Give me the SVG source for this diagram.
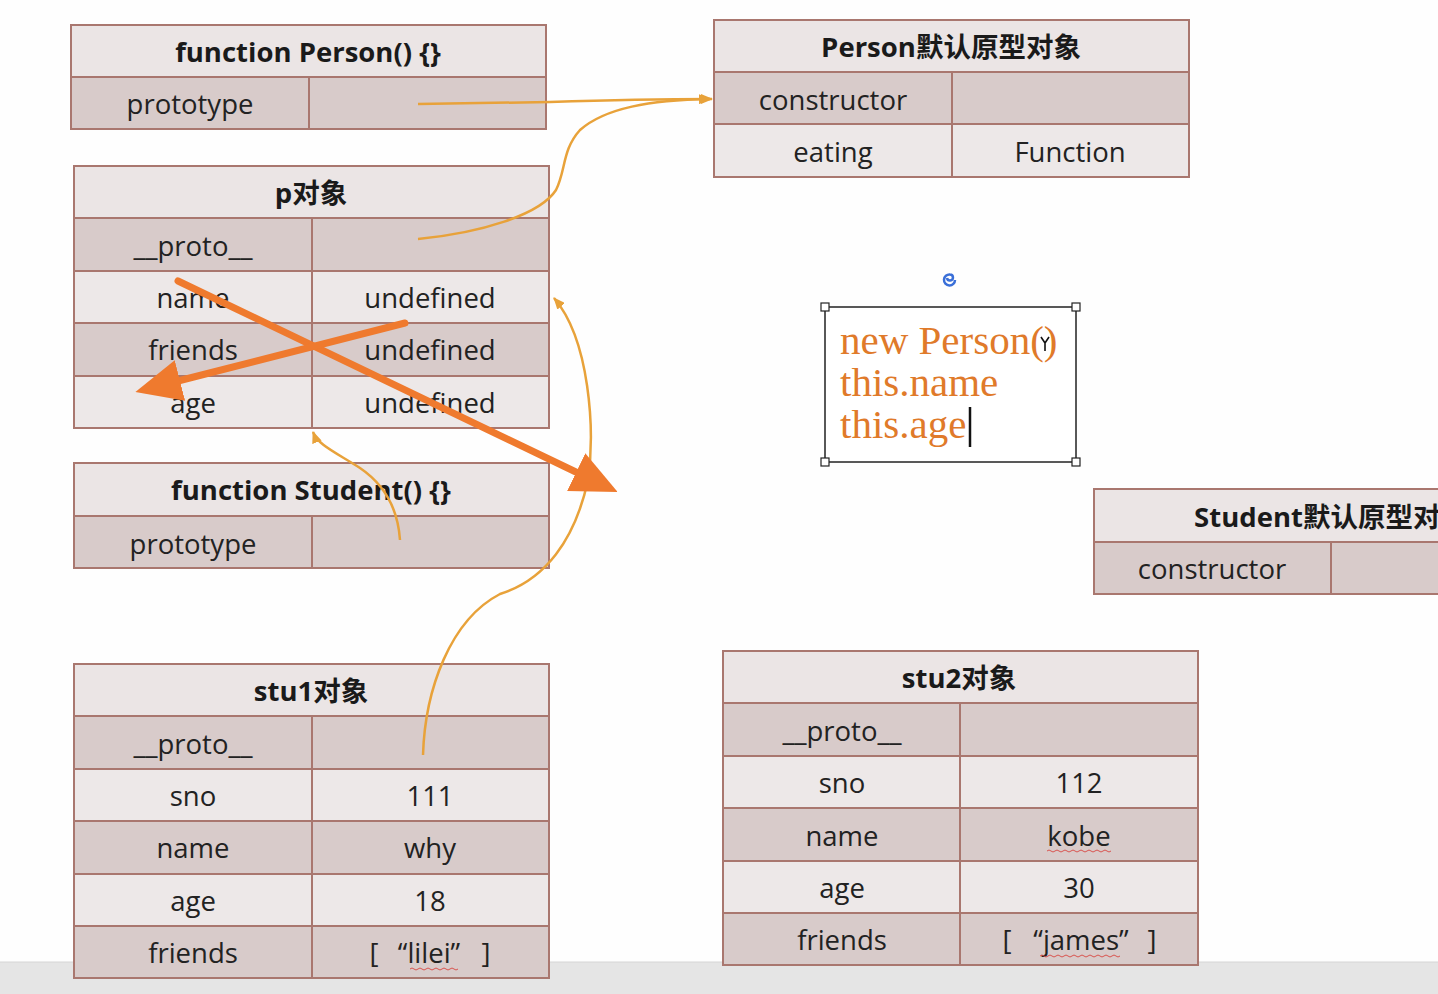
<svg xmlns="http://www.w3.org/2000/svg" width="1438" height="994" viewBox="0 0 1438 994">
<style>
.hd{fill:#ebe5e5}
.dk{fill:#d8cbca}
.lt{fill:#ede8e8}
.bd{fill:none;stroke:#a9776f;stroke-width:2}
.ln{stroke:#a9776f;stroke-width:2}
.h{font-family:"Open Sans","Noto Sans CJK SC",sans-serif;font-weight:bold;font-size:27.5px;fill:#1a1a1a;text-anchor:middle}
.t{font-family:"Open Sans","Noto Sans CJK SC",sans-serif;font-size:27.5px;fill:#222;text-anchor:middle}
.thin{fill:none;stroke:#e8a23a;stroke-width:2.5}
.thick{fill:none;stroke:#ef7a2e;stroke-width:7;stroke-linecap:round}
.note{font-family:"Liberation Serif","Times New Roman",serif;font-size:41px;fill:#e07a2a}
.wavy{fill:none;stroke:#d9534f;stroke-width:1}
.hdl{fill:#fff;stroke:#222;stroke-width:1.2}
</style>
<defs>
<marker id="ah" viewBox="0 0 12 10" refX="11" refY="5" markerWidth="12" markerHeight="10" markerUnits="userSpaceOnUse" orient="auto">
<path d="M0,0 L12,5 L0,10 Z" fill="#e8a23a"/>
</marker>
<marker id="big" viewBox="0 0 46 42" refX="2" refY="21" markerWidth="46" markerHeight="42" markerUnits="userSpaceOnUse" orient="auto">
<path d="M0,0 L46,21 L0,42 Z" fill="#ef7a2e"/>
</marker>
</defs>
<rect x="0" y="0" width="1438" height="994" fill="#fefefe"/>
<rect x="0" y="962" width="1438" height="32" fill="#e5e5e5"/>
<line x1="0" y1="962" x2="1438" y2="962" stroke="#d6d6d6" stroke-width="1"/>

<g id="person-fn">
<rect class="hd" x="71" y="25" width="475" height="52"/>
<rect class="dk" x="71" y="77" width="475" height="52"/>
<rect class="bd" x="71" y="25" width="475" height="104"/>
<line class="ln" x1="71" y1="77" x2="546" y2="77"/>
<line class="ln" x1="309" y1="77" x2="309" y2="129"/>
<text class="h" x="308" y="62">function Person() {}</text>
<text class="t" x="190" y="114">prototype</text>
</g>

<g id="person-proto">
<rect class="hd" x="714" y="20" width="475" height="52"/>
<rect class="dk" x="714" y="72" width="475" height="52"/>
<rect class="lt" x="714" y="124" width="475" height="53"/>
<rect class="bd" x="714" y="20" width="475" height="157"/>
<line class="ln" x1="714" y1="72" x2="1189" y2="72"/>
<line class="ln" x1="714" y1="124" x2="1189" y2="124"/>
<line class="ln" x1="952" y1="72" x2="952" y2="177"/>
<text class="h" x="951" y="57">Person默认原型对象</text>
<text class="t" x="833" y="110">constructor</text>
<text class="t" x="833" y="162">eating</text>
<text class="t" x="1070" y="162">Function</text>
</g>

<g id="p-obj">
<rect class="hd" x="74" y="166" width="475" height="52"/>
<rect class="dk" x="74" y="218" width="475" height="53"/>
<rect class="lt" x="74" y="271" width="475" height="52"/>
<rect class="dk" x="74" y="323" width="475" height="53"/>
<rect class="lt" x="74" y="376" width="475" height="52"/>
<rect class="bd" x="74" y="166" width="475" height="262"/>
<line class="ln" x1="74" y1="218" x2="549" y2="218"/>
<line class="ln" x1="74" y1="271" x2="549" y2="271"/>
<line class="ln" x1="74" y1="323" x2="549" y2="323"/>
<line class="ln" x1="74" y1="376" x2="549" y2="376"/>
<line class="ln" x1="312" y1="218" x2="312" y2="428"/>
<text class="h" x="311" y="203">p对象</text>
<text class="t" x="193" y="256">__proto__</text>
<text class="t" x="193" y="308">name</text>
<text class="t" x="193" y="360">friends</text>
<text class="t" x="193" y="413">age</text>
<text class="t" x="430" y="308">undefined</text>
<text class="t" x="430" y="360">undefined</text>
<text class="t" x="430" y="413">undefined</text>
</g>

<g id="student-fn">
<rect class="hd" x="74" y="463" width="475" height="53"/>
<rect class="dk" x="74" y="516" width="475" height="52"/>
<rect class="bd" x="74" y="463" width="475" height="105"/>
<line class="ln" x1="74" y1="516" x2="549" y2="516"/>
<line class="ln" x1="312" y1="516" x2="312" y2="568"/>
<text class="h" x="311" y="500">function Student() {}</text>
<text class="t" x="193" y="554">prototype</text>
</g>

<g id="student-proto">
<rect class="hd" x="1094" y="489" width="475" height="53"/>
<rect class="dk" x="1094" y="542" width="475" height="52"/>
<rect class="bd" x="1094" y="489" width="475" height="105"/>
<line class="ln" x1="1094" y1="542" x2="1569" y2="542"/>
<line class="ln" x1="1331" y1="542" x2="1331" y2="594"/>
<text class="h" x="1331" y="527">Student默认原型对象</text>
<text class="t" x="1212" y="579">constructor</text>
</g>

<g id="stu1">
<rect class="hd" x="74" y="664" width="475" height="52"/>
<rect class="dk" x="74" y="716" width="475" height="53"/>
<rect class="lt" x="74" y="769" width="475" height="52"/>
<rect class="dk" x="74" y="821" width="475" height="53"/>
<rect class="lt" x="74" y="874" width="475" height="52"/>
<rect class="dk" x="74" y="926" width="475" height="52"/>
<rect class="bd" x="74" y="664" width="475" height="314"/>
<line class="ln" x1="74" y1="716" x2="549" y2="716"/>
<line class="ln" x1="74" y1="769" x2="549" y2="769"/>
<line class="ln" x1="74" y1="821" x2="549" y2="821"/>
<line class="ln" x1="74" y1="874" x2="549" y2="874"/>
<line class="ln" x1="74" y1="926" x2="549" y2="926"/>
<line class="ln" x1="312" y1="716" x2="312" y2="978"/>
<text class="h" x="311" y="701">stu1对象</text>
<text class="t" x="193" y="754">__proto__</text>
<text class="t" x="193" y="806">sno</text>
<text class="t" x="193" y="858">name</text>
<text class="t" x="193" y="911">age</text>
<text class="t" x="193" y="963">friends</text>
<text class="t" x="430" y="806">111</text>
<text class="t" x="430" y="858">why</text>
<text class="t" x="430" y="911">18</text>
<text class="t" x="430" y="963"><tspan x="374">[</tspan><tspan x="429">“lilei”</tspan><tspan x="486">]</tspan></text>
<path class="wavy" d="M410,969 q2,-2 4,0 t4,0 t4,0 t4,0 t4,0 t4,0 t4,0 t4,0 t4,0 t4,0 t4,0 t4,0"/>
</g>

<g id="stu2">
<rect class="hd" x="723" y="651" width="475" height="52"/>
<rect class="dk" x="723" y="703" width="475" height="53"/>
<rect class="lt" x="723" y="756" width="475" height="52"/>
<rect class="dk" x="723" y="808" width="475" height="53"/>
<rect class="lt" x="723" y="861" width="475" height="52"/>
<rect class="dk" x="723" y="913" width="475" height="52"/>
<rect class="bd" x="723" y="651" width="475" height="314"/>
<line class="ln" x1="723" y1="703" x2="1198" y2="703"/>
<line class="ln" x1="723" y1="756" x2="1198" y2="756"/>
<line class="ln" x1="723" y1="808" x2="1198" y2="808"/>
<line class="ln" x1="723" y1="861" x2="1198" y2="861"/>
<line class="ln" x1="723" y1="913" x2="1198" y2="913"/>
<line class="ln" x1="960" y1="703" x2="960" y2="965"/>
<text class="h" x="959" y="688">stu2对象</text>
<text class="t" x="842" y="741">__proto__</text>
<text class="t" x="842" y="793">sno</text>
<text class="t" x="842" y="846">name</text>
<text class="t" x="842" y="898">age</text>
<text class="t" x="842" y="950">friends</text>
<text class="t" x="1079" y="793">112</text>
<text class="t" x="1079" y="846">kobe</text>
<text class="t" x="1079" y="898">30</text>
<text class="t" x="1079" y="950"><tspan x="1007">[</tspan><tspan x="1081">“james”</tspan><tspan x="1152">]</tspan></text>
<path class="wavy" d="M1047,851 q2,-2 4,0 t4,0 t4,0 t4,0 t4,0 t4,0 t4,0 t4,0 t4,0 t4,0 t4,0 t4,0 t4,0 t4,0 t4,0 t4,0"/>
<path class="wavy" d="M1040,956 q2,-2 4,0 t4,0 t4,0 t4,0 t4,0 t4,0 t4,0 t4,0 t4,0 t4,0 t4,0 t4,0 t4,0 t4,0 t4,0 t4,0 t4,0 t4,0 t4,0 t4,0"/>
</g>

<g id="note">
<rect x="825" y="307" width="251" height="155" fill="#fff" stroke="#222" stroke-width="1.5"/>
<rect class="hdl" x="821" y="303" width="8" height="8"/>
<rect class="hdl" x="1072" y="303" width="8" height="8"/>
<rect class="hdl" x="821" y="458" width="8" height="8"/>
<rect class="hdl" x="1072" y="458" width="8" height="8"/>
<text class="note" x="840" y="354">new Person()</text>
<text class="note" x="840" y="396">this.name</text>
<text class="note" x="840" y="438">this.age</text>
<line x1="970" y1="407" x2="970" y2="447" stroke="#111" stroke-width="2.5"/>
<path d="M1041,337 L1045,343 L1049,337 M1045,343 L1045,351" fill="none" stroke="#111" stroke-width="1.6"/>
<path d="M955,280 a5.5,5.5 0 1 1 -5,-5.5 a3,3 0 1 1 -3,3.5" fill="none" stroke="#3a6fd8" stroke-width="2.5"/>
</g>

<g id="connectors">
<path class="thin" d="M418,104 L550,102 C 610,100 660,99 712,99" marker-end="url(#ah)"/>
<path class="thin" d="M418,239 C 480,233 540,215 556,190 C 566,170 562,150 580,130 C 605,108 650,100 710,99" marker-end="url(#ah)"/>
<path class="thin" d="M423,755 C 425,690 450,620 500,594 C 545,580 575,540 588,480 C 595,430 590,340 554,298" marker-end="url(#ah)"/>
<path class="thin" d="M400,540 C 398,510 385,485 360,468 C 335,452 318,445 313,432" marker-end="url(#ah)"/>
<path class="thick" d="M178,281 L578,473" marker-end="url(#big)"/>
<path class="thick" d="M405,323 L178,381" marker-end="url(#big)"/>
</g>
</svg>
